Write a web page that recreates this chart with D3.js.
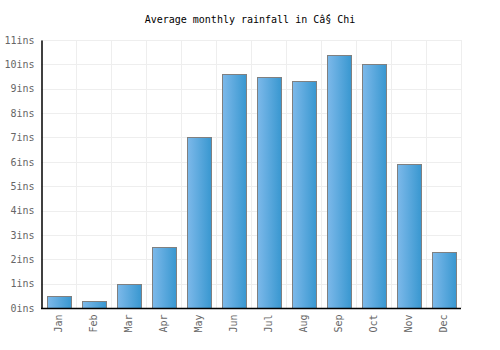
<!doctype html>
<html>
  <head>
    <meta charset="utf-8">
    <title>Rainfall</title>
    <script src="https://d3js.org/d3.v7.min.js"></script>
    <style>
      body { margin: 0; background: #fff; }
      text { font-family: "DejaVu Sans Mono", monospace; }
    </style>
  </head>
  <body>
    <script>
      // 月份与降雨量 (ins)
      const months = ['Jan', 'Feb', 'Mar', 'Apr', 'May', 'Jun', 'Jul', 'Aug', 'Sep', 'Oct', 'Nov', 'Dec'];
      const rainfall = [0.5, 0.3, 1.0, 2.5, 7.0, 9.6, 9.5, 9.3, 10.4, 10.0, 5.9, 2.3];
      const yTicks = [0, 1, 2, 3, 4, 5, 6, 7, 8, 9, 10, 11];
      const title = 'Average monthly rainfall in Cấ§ Chi';

      const width = 500;
      const height = 350;
      const margin = { top: 40, right: 39, bottom: 42, left: 41 };

      const svg = d3.select('body').append('svg')
          .attr('width', width)
          .attr('height', height);

      // 渐变
      const grad = svg.append('defs')
        .append('linearGradient')
          .attr('id', 'barGrad')
          .attr('x1', '0%').attr('x2', '100%')
          .attr('y1', '0%').attr('y2', '0%');
      grad.append('stop').attr('offset', '0%').attr('stop-color', '#7db9ea');
      grad.append('stop').attr('offset', '100%').attr('stop-color', '#3897d0');

      const x = d3.scaleBand()
          .domain(months)
          .range([margin.left, width - margin.right])
          .paddingInner(0.32)
          .paddingOuter(0.16);

      const y = d3.scaleLinear()
          .domain([0, 11])
          .range([height - margin.bottom, margin.top]);

      // 网格
      const step = x.step();
      const grid = svg.append('g').attr('stroke', '#eeeeee').attr('stroke-width', 1);
      grid.selectAll('line.h')
        .data(yTicks.slice(1))
        .enter().append('line')
          .attr('x1', margin.left)
          .attr('x2', width - margin.right)
          .attr('y1', d => Math.round(y(d)) + 0.5)
          .attr('y2', d => Math.round(y(d)) + 0.5);
      grid.selectAll('line.v')
        .data(d3.range(1, months.length + 1))
        .enter().append('line')
          .attr('x1', i => Math.round(margin.left + i * step) + 0.5)
          .attr('x2', i => Math.round(margin.left + i * step) + 0.5)
          .attr('y1', margin.top)
          .attr('y2', height - margin.bottom);

      // 柱子
      svg.append('g')
        .selectAll('rect')
        .data(rainfall)
        .enter().append('rect')
          .attr('x', (d, i) => Math.round(x(months[i])) + 0.5)
          .attr('y', d => Math.round(y(d)) + 0.5)
          .attr('width', Math.round(x.bandwidth()))
          .attr('height', d => Math.round(y(0)) - Math.round(y(d)))
          .attr('fill', 'url(#barGrad)')
          .attr('stroke', '#808080')
          .attr('stroke-width', 1);

      // Y轴
      const yAxis = svg.append('g')
          .attr('transform', `translate(${margin.left + 0.5},0)`)
          .call(d3.axisLeft(y).tickValues(yTicks).tickFormat(d => d + 'ins').tickSize(0).tickPadding(7));
      yAxis.select('.domain').attr('stroke', '#000').attr('stroke-width', 1.5);
      yAxis.selectAll('text').attr('font-size', 10).attr('fill', '#666')
          .attr('font-family', '"DejaVu Sans Mono", monospace');

      // X轴
      const xAxis = svg.append('g')
          .attr('transform', `translate(0,${Math.round(y(0)) + 0.5})`)
          .call(d3.axisBottom(x).tickSize(0).tickPadding(0));
      xAxis.select('.domain').attr('stroke', '#000').attr('stroke-width', 1.5)
          .attr('d', `M${margin.left},0H${width - margin.right}`);
      xAxis.selectAll('text')
          .attr('font-size', 10)
          .attr('fill', '#666')
          .attr('font-family', '"DejaVu Sans Mono", monospace')
          .attr('transform', 'rotate(-90)')
          .attr('text-anchor', 'end')
          .attr('x', -6)
          .attr('y', 0)
          .attr('dy', '0.35em');

      // 标题
      svg.append('text')
          .attr('x', width / 2)
          .attr('y', 23)
          .attr('text-anchor', 'middle')
          .attr('font-size', 10)
          .attr('fill', '#000')
          .text(title);
    </script>
  </body>
</html>
